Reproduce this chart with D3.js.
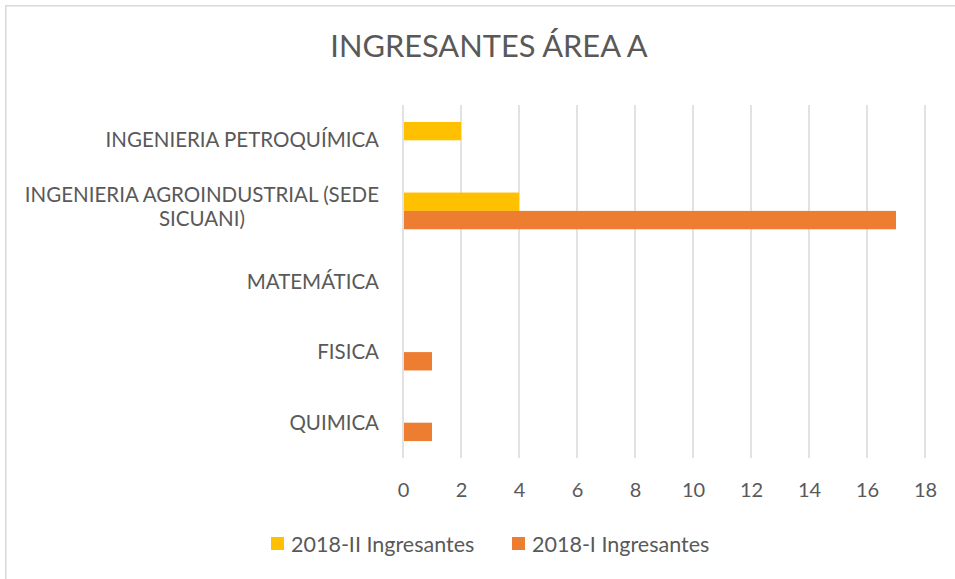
<!DOCTYPE html>
<html>
<head>
<meta charset="utf-8">
<script src="https://cdn.jsdelivr.net/npm/d3@7"></script>
<style>
  html, body { margin: 0; padding: 0; background: #fff; }
  svg { display: block; font-family: Lato, 'Open Sans', sans-serif; }
</style>
</head>
<body>
<div id="chart"></div>
<script>
// Data
var categories = [
  "INGENIERIA PETROQUÍMICA",
  "INGENIERIA AGROINDUSTRIAL (SEDE SICUANI)",
  "MATEMÁTICA",
  "FISICA",
  "QUIMICA"
];
var seriesNames = ["2018-II Ingresantes", "2018-I Ingresantes"];
var values2018II = [2, 4, 0, 0, 0];
var values2018I = [0, 17, 0, 1, 1];
var xTicks = [0, 2, 4, 6, 8, 10, 12, 14, 16, 18];
var seriesColors = ["#FFC000", "#ED7D31"];
var chartTitle = "INGRESANTES ÁREA A";

var attrs = {
  svgWidth: 955,
  svgHeight: 579,
  plotLeft: 403,
  plotRight: 925,
  plotTop: 105,
  plotBottom: 458,
  textFill: '#595959',
  gridColor: '#D9D9D9',
  fontSize: 20,
  labelFontSize: 20.5,
  legendFontSize: 21.5
};

var rows = categories.map(function (c, i) {
  return { category: c, values: [values2018II[i], values2018I[i]] };
});

var svg = d3.select('#chart').append('svg')
  .attr('width', attrs.svgWidth)
  .attr('height', attrs.svgHeight);

// outer chart border (runs past the right/bottom edge of the picture)
svg.append('rect')
  .attr('x', 5.75).attr('y', 5.75)
  .attr('width', 1100).attr('height', 1100)
  .attr('fill', 'none')
  .attr('stroke', attrs.gridColor)
  .attr('stroke-width', 1.5);

// Title
svg.append('text')
  .attr('x', 489)
  .attr('y', 57)
  .attr('text-anchor', 'middle')
  .attr('font-size', 30.8)
  .attr('fill', attrs.textFill)
  .text(chartTitle);

// Scales
var x = d3.scaleLinear()
  .domain([0, 18])
  .range([attrs.plotLeft, attrs.plotRight]);

var y = d3.scaleBand()
  .domain(categories)
  .range([attrs.plotTop, attrs.plotBottom])
  .paddingInner(0.48)
  .paddingOuter(0.24);

var ySub = d3.scaleBand()
  .domain(seriesNames)
  .range([0, y.bandwidth()]);

var color = d3.scaleOrdinal().domain(seriesNames).range(seriesColors);

// Gridlines
svg.append('g').attr('class', 'grid')
  .selectAll('line')
  .data(xTicks)
  .enter().append('line')
  .attr('x1', function (d) { return x(d); })
  .attr('x2', function (d) { return x(d); })
  .attr('y1', attrs.plotTop)
  .attr('y2', attrs.plotBottom)
  .attr('stroke', attrs.gridColor)
  .attr('stroke-width', 1.5);

// X axis tick labels
var xAxis = d3.axisBottom(x).tickValues(xTicks).tickSize(0).tickPadding(0);
var xAxisG = svg.append('g')
  .attr('transform', 'translate(0,' + 497 + ')')
  .call(xAxis);
xAxisG.select('.domain').remove();
xAxisG.selectAll('text')
  .attr('dy', 0)
  .attr('font-size', attrs.fontSize)
  .attr('font-family', "Lato, 'Open Sans', sans-serif")
  .attr('fill', attrs.textFill);

// Bars
var groups = svg.append('g').selectAll('g.cat')
  .data(rows)
  .enter().append('g')
  .attr('class', 'cat')
  .attr('transform', function (d) { return 'translate(0,' + y(d.category) + ')'; });

groups.selectAll('rect')
  .data(function (d) {
    return d.values.map(function (v, i) { return { key: seriesNames[i], value: v }; });
  })
  .enter().append('rect')
  .filter(function (d) { return d.value > 0; })
  .attr('x', x(0) + 1)
  .attr('y', function (d) { return ySub(d.key); })
  .attr('width', function (d) { return x(d.value) - x(0) - 1; })
  .attr('height', ySub.bandwidth())
  .attr('fill', function (d) { return color(d.key); });

// Category labels (wrap long ones, centred lines, right-aligned block)
var labelRight = 379;
var maxLabelWidth = labelRight - 20;
var labelG = svg.append('g');

categories.forEach(function (c) {
  var cy = y(c) + y.bandwidth() / 2;
  var t = labelG.append('text')
    .attr('font-size', attrs.labelFontSize)
    .attr('fill', attrs.textFill)
    .attr('text-anchor', 'end')
    .attr('x', labelRight)
    .attr('y', cy)
    .attr('dy', '0.35em')
    .text(c);
  if (t.node().getComputedTextLength() > maxLabelWidth) {
    // split into two lines
    var words = c.split(' ');
    var line1 = [], line2 = [];
    words.forEach(function (w) {
      var test = line1.concat([w]).join(' ');
      t.text(test);
      if (line2.length === 0 && t.node().getComputedTextLength() <= maxLabelWidth) line1.push(w);
      else line2.push(w);
    });
    t.text(line1.join(' '));
    var w1 = t.node().getComputedTextLength();
    var lineH = 24;
    var cx = labelRight - w1 / 2;
    t.text(null).attr('text-anchor', 'middle').attr('y', null).attr('dy', null);
    t.append('tspan').attr('x', cx).attr('y', cy - lineH / 2 + 3).text(line1.join(' '));
    t.append('tspan').attr('x', cx).attr('y', cy + lineH / 2 + 3).text(line2.join(' '));
  }
});

// Legend
var legendX = [271, 512];
var legend = svg.append('g').selectAll('g')
  .data(seriesNames)
  .enter().append('g')
  .attr('transform', function (d, i) { return 'translate(' + legendX[i] + ',' + 537 + ')'; });

legend.append('rect')
  .attr('width', 13)
  .attr('height', 13)
  .attr('fill', function (d) { return color(d); });

legend.append('text')
  .attr('x', 20)
  .attr('y', 14.5)
  .attr('font-size', attrs.legendFontSize)
  .attr('fill', attrs.textFill)
  .text(function (d) { return d; });
</script>
</body>
</html>
